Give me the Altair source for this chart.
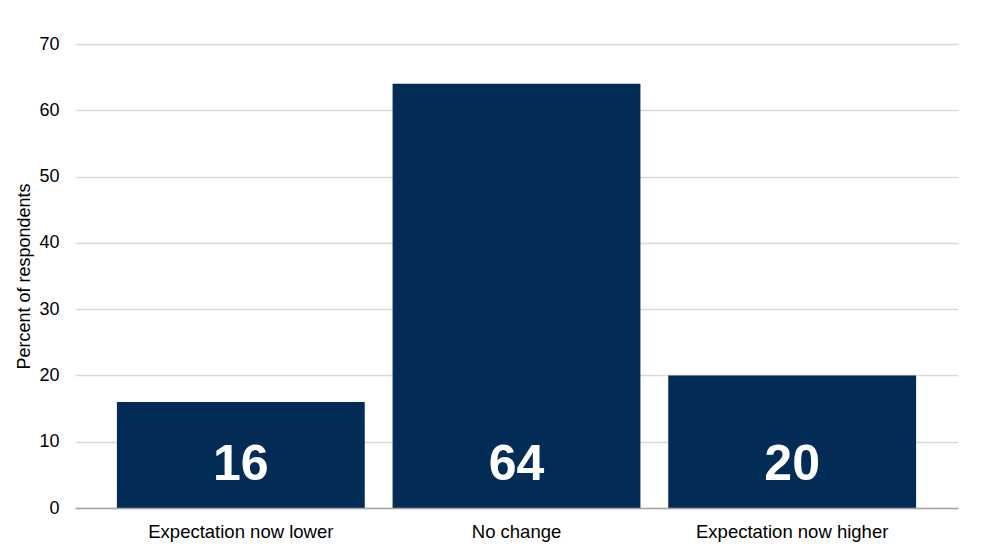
import altair as alt
import pandas as pd

categories = ["Expectation now lower", "No change", "Expectation now higher"]
values = [16, 64, 20]
y_ticks = [0, 10, 20, 30, 40, 50, 60, 70]

df = pd.DataFrame({"category": categories, "value": values})

FONT = "Liberation Sans"
BAR = "#022b55"

x_enc = alt.X(
    "category:N",
    sort=categories,
    scale=alt.Scale(paddingInner=0.101, paddingOuter=0.152),
    axis=alt.Axis(
        title=None,
        labelAngle=0,
        labelFont=FONT,
        labelFontSize=18.5,
        labelColor="#000000",
        labelPadding=14,
        labelLimit=0,
        ticks=False,
        domain=True,
        domainColor="#a6a6a6",
        domainWidth=1.5,
        grid=False,
        zindex=1,
    ),
)

bars = alt.Chart(df).mark_bar(color=BAR).encode(
    x=x_enc,
    y=alt.Y(
        "value:Q",
        scale=alt.Scale(domain=[0, 70], nice=False),
        axis=alt.Axis(
            title="Percent of respondents",
            titleFont=FONT,
            titleFontSize=18,
            titleFontWeight="normal",
            titleColor="#000000",
            titlePadding=5,
            values=y_ticks,
            labelFont=FONT,
            labelFontSize=18,
            labelColor="#000000",
            labelPadding=16,
            ticks=False,
            domain=False,
            grid=True,
            gridColor="#d9d9d9",
            gridWidth=1.5,
        ),
    ),
)

labels = alt.Chart(df).mark_text(
    font=FONT,
    fontSize=50,
    fontWeight="bold",
    color="#ffffff",
    baseline="alphabetic",
    align="center",
    dy=-28,
).encode(
    x=alt.X("category:N", sort=categories),
    y=alt.datum(0),
    text=alt.Text("value:Q"),
)

chart = (
    alt.layer(bars, labels)
    .properties(
        width=883,
        height=464,
        autosize=alt.AutoSizeParams(type="none"),
        padding={"left": 75, "top": 44, "right": 33, "bottom": 49},
        view=alt.ViewBackground(stroke="transparent", strokeWidth=0),
    )
    .configure_view(stroke="transparent", strokeWidth=0)
    .configure_axis(domain=False)
    .configure(background="#ffffff")
)

chart.save("out.html", embed_options={"renderer": "svg", "actions": False})
